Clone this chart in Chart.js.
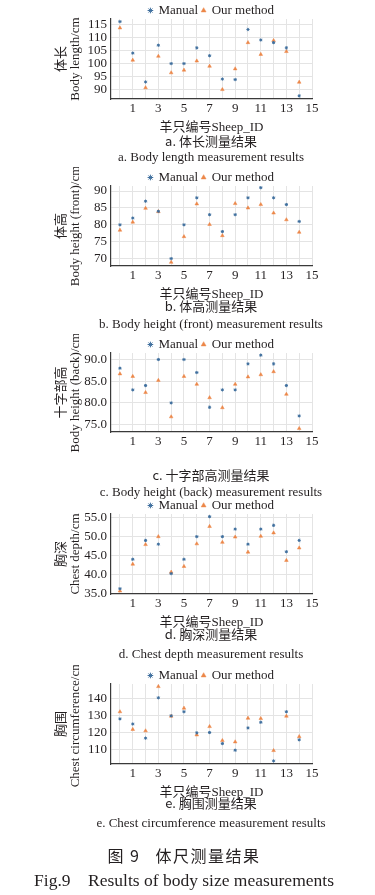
<!DOCTYPE html>
<html>
<head>
<meta charset="utf-8">
<script src="https://cdn.jsdelivr.net/npm/chart.js@4.4.1/dist/chart.umd.min.js"></script>
<style>
  body { margin: 0; background: #fff; width: 375px; height: 895px; position: relative; overflow: hidden;
         font-family: 'Liberation Serif', 'Noto Sans CJK SC', serif; color: #231f20; }
  .panel { position: absolute; left: 0; width: 375px; }
  .cap { position: absolute; left: 61px; width: 300px; text-align: center; font-size: 13px; line-height: 16px; white-space: nowrap; }
  .cn { font-family: 'Noto Sans CJK SC', sans-serif; }
  .foot { position: absolute; left: 0; width: 368px; text-align: center; white-space: nowrap; }
</style>
</head>
<body>

<div class="panel" style="top:0px"><canvas id="c1" width="375" height="135"></canvas></div>
<div class="panel" style="top:167px"><canvas id="c2" width="375" height="135"></canvas></div>
<div class="panel" style="top:334px"><canvas id="c3" width="375" height="134"></canvas></div>
<div class="panel" style="top:495px"><canvas id="c4" width="375" height="135"></canvas></div>
<div class="panel" style="top:665px"><canvas id="c5" width="375" height="135"></canvas></div>

<div class="cap cn" style="top:133px">a. 体长测量结果</div>
<div class="cap" style="top:149px">a. Body length measurement results</div>
<div class="cap cn" style="top:298px">b. 体高测量结果</div>
<div class="cap" style="top:316px">b. Body height (front) measurement results</div>
<div class="cap cn" style="top:467px">c. 十字部高测量结果</div>
<div class="cap" style="top:484px">c. Body height (back) measurement results</div>
<div class="cap cn" style="top:626px">d. 胸深测量结果</div>
<div class="cap" style="top:646px">d. Chest depth measurement results</div>
<div class="cap cn" style="top:795px">e. 胸围测量结果</div>
<div class="cap" style="top:815px">e. Chest circumference measurement results</div>

<div class="foot cn" style="top:845px;font-size:16px;line-height:20px;letter-spacing:1.5px">图 9&nbsp;&nbsp;&nbsp;体尺测量结果</div>
<div class="foot" style="top:870px;font-size:17.5px;line-height:20px">Fig.9&nbsp;&nbsp;&nbsp;&nbsp;Results of body size measurements</div>

<script>
document.addEventListener("DOMContentLoaded", () => {

const sheepIds = [0, 1, 2, 3, 4, 5, 6, 7, 8, 9, 10, 11, 12, 13, 14];
const xGridValues = [0, 1, 2, 3, 4, 5, 6, 7, 8, 9, 10, 11, 12, 13, 14, 15];
const xTickLabels = [1, 3, 5, 7, 9, 11, 13, 15];

const bodyLengthManual = [116, 104, 93, 107, 100, 100, 106, 103, 94.1, 93.9, 113, 109, 108, 106, 87.7];
const bodyLengthOurs   = [113.6, 101.3, 90.8, 102.8, 96.5, 97.5, 101, 99, 90.1, 98, 108, 103.5, 108.8, 104.6, 92.9];
const bodyLengthTicks  = [90, 95, 100, 105, 110, 115];

const heightFrontManual = [80, 82, 87, 84, 70, 80, 88, 83, 78, 83, 88, 91, 88, 86, 81];
const heightFrontOurs   = [78.4, 80.8, 84.9, 83.9, 68.9, 76.5, 86.2, 80.1, 76.8, 86.3, 85, 86, 83.5, 81.5, 77.8];
const heightFrontTicks  = [70, 75, 80, 85, 90];

const heightBackManual = [88, 83, 84, 90, 80, 90, 87, 79, 83, 83, 89, 91, 89, 84, 77];
const heightBackOurs   = [86.7, 86.1, 82.4, 85.2, 76.8, 86.1, 84.3, 81.2, 78.9, 84.3, 86, 86.5, 87.2, 82, 74.1];
const heightBackTicks  = [75, 80, 85, 90];

const chestDepthManual = [36.2, 44, 49, 48, 40.2, 44, 50, 55.3, 50, 52, 48, 52, 53, 46, 49];
const chestDepthOurs   = [35.6, 42.7, 47.9, 50, 40.6, 42.1, 48.1, 52.7, 48.5, 49.9, 45.9, 50.1, 51, 43.7, 47];
const chestDepthTicks  = [35, 40, 45, 50, 55];

const chestCircManual = [128, 125, 116.7, 140.4, 129.8, 132.2, 119.8, 120, 113.5, 109.6, 122.7, 126, 103.3, 132.2, 115.7];
const chestCircOurs   = [132.2, 121.8, 121, 147, 129.6, 134.3, 118.6, 123.5, 115.3, 114.5, 128.4, 128.2, 109.4, 129.6, 117.6];
const chestCircTicks  = [110, 120, 130, 140];

const SERIF = "'Liberation Serif', 'Noto Sans CJK SC', serif";
const TEXT = "#231f20";
const GRID = "#e4e4e4";
const AXIS = "#3a3a3a";
const BLUE = "#3f6f9e";
const ORANGE = "#ec8748";

// chart.js puts 10px under the legend, the figure is tighter
const tightLegend = {
  id: "tightLegend",
  afterInit(chart) {
    const lg = chart.legend;
    const fit = lg.fit.bind(lg);
    lg.fit = function () { fit(); this.height = 19; };
  }
};

function makePanel(id, manual, ours, yTicks, yMin, yMax, titleCn, titleEn, decimals, showXTitle) {
  const ctx = document.getElementById(id).getContext("2d");
  return new Chart(ctx, {
    type: "scatter",
    data: {
      datasets: [{
        label: "Manual",
        data: sheepIds.map((s, i) => ({ x: s, y: manual[i] })),
        pointStyle: "star",
        pointRadius: 1.6,
        borderWidth: 1,
        borderColor: BLUE,
        backgroundColor: BLUE
      }, {
        label: "Our method",
        data: sheepIds.map((s, i) => ({ x: s, y: ours[i] })),
        pointStyle: "triangle",
        pointRadius: 2.1,
        borderWidth: 0.5,
        borderColor: ORANGE,
        backgroundColor: ORANGE
      }]
    },
    options: {
      animation: false,
      responsive: false,
      events: [],
      layout: { padding: { left: 50, right: 63, top: 0, bottom: 0 } },
      plugins: {
        legend: {
          fullSize: false,
          labels: {
            usePointStyle: true,
            boxWidth: 3,
            boxHeight: 4,
            padding: 4,
            color: TEXT,
            font: { family: SERIF, size: 13 }
          }
        },
        tooltip: { enabled: false }
      },
      scales: {
        x: {
          type: "linear",
          min: -0.7,
          max: 15,
          afterBuildTicks: s => { s.ticks = xGridValues.map(v => ({ value: v })); },
          afterFit: s => { s.height = 36; },
          grid: { color: GRID, drawTicks: false },
          border: { color: AXIS, width: 1.2 },
          ticks: {
            autoSkip: false,
            maxRotation: 0,
            padding: 2,
            color: TEXT,
            font: { family: SERIF, size: 13 },
            callback: v => xTickLabels.includes(v) ? String(v) : ""
          },
          title: {
            display: showXTitle,
            text: "羊只编号Sheep_ID",
            color: TEXT,
            font: { family: SERIF, size: 13 },
            padding: { top: 0, bottom: 0 }
          }
        },
        y: {
          min: yMin,
          max: yMax,
          afterBuildTicks: s => { s.ticks = yTicks.map(v => ({ value: v })); },
          afterFit: s => { s.width = 61; },
          grid: { color: GRID, drawTicks: false },
          border: { color: AXIS, width: 1.2 },
          ticks: {
            autoSkip: false,
            padding: 4,
            color: TEXT,
            font: { family: SERIF, size: 13 },
            callback: v => decimals ? Number(v).toFixed(1) : String(v)
          },
          title: {
            display: true,
            text: [titleCn, titleEn],
            color: TEXT,
            font: { family: SERIF, size: 13, lineHeight: 1.1 },
            padding: { top: 4, bottom: 0 }
          }
        }
      }
    },
    plugins: [tightLegend]
  });
}

makePanel("c1", bodyLengthManual, bodyLengthOurs, bodyLengthTicks, 86.5, 117, "体长", "Body length/cm", false, true);
makePanel("c2", heightFrontManual, heightFrontOurs, heightFrontTicks, 67.8, 91.5, "体高", "Body height (front)/cm", false, true);
makePanel("c3", heightBackManual, heightBackOurs, heightBackTicks, 73.3, 91.5, "十字部高", "Body height (back)/cm", true, false);
makePanel("c4", chestDepthManual, chestDepthOurs, chestDepthTicks, 34.8, 56, "胸深", "Chest depth/cm", true, true);
makePanel("c5", chestCircManual, chestCircOurs, chestCircTicks, 101.5, 148.5, "胸围", "Chest circumference/cm", false, true);

});
</script>
</body>
</html>
